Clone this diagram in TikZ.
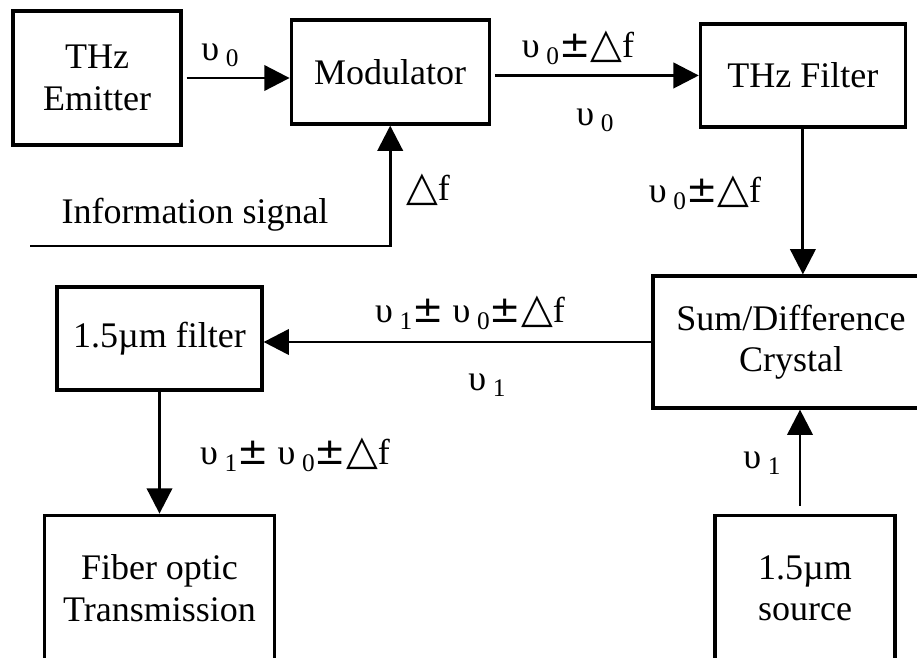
\documentclass[tikz,border=0pt]{standalone}
\usepackage{fontspec}
\setmainfont{Liberation Serif}
\newfontfamily\symfont{DejaVu Sans}
\usetikzlibrary{arrows.meta}
\usetikzlibrary{positioning}

% frequency with subscript, and the "plus/minus delta f" part
\newcommand{\fr}[1]{υ\kern5pt\raisebox{-0.4ex}{\fontsize{19}{19}\selectfont #1}}
\newcommand{\plmi}{{\symfont\fontsize{28}{28}\selectfont ±}}
\newcommand{\dl}{{\symfont\fontsize{31}{31}\selectfont △}}
\newcommand{\pd}{\plmi\dl f}

\begin{document}
\begin{tikzpicture}[x=0.75pt,y=-0.75pt,>={Triangle[length=19pt,width=19pt]},line width=2.2pt,
    block/.style={draw,line width=2.4pt,align=center,font=\fontsize{27}{31}\selectfont,inner sep=0pt},
    lbl/.style={font=\fontsize{27}{31}\selectfont,inner sep=0pt}]

      \path[use as bounding box,clip] (0,0) rectangle (917,657);

      \node (emit) [block,minimum width=126pt,minimum height=100.5pt] at (97,78) {THz\\Emitter};
      \node (mod) [block,minimum width=148.5pt,minimum height=78pt,right=80.25pt of emit,yshift=4.5pt] {Modulator};
      \node (thzf) [block,minimum width=153.75pt,minimum height=77.25pt,right=156pt of mod,yshift=-2.6pt] {THz Filter};
      \node (sum) [block,minimum width=207pt,minimum height=99pt] at (791,342) {Sum/Difference\\Crystal};
      \node (f15) [block,minimum width=153.75pt,minimum height=77.25pt] at (159.5,338.5) {1.5µm filter};
      \node (fiber) [block,minimum width=172.5pt,minimum height=109.5pt,below=91.5pt of f15] {Fiber optic\\Transmission};
      \node (src) [block,minimum width=135pt,minimum height=109.5pt,below=78pt of sum,xshift=10.5pt] {1.5µm\\source};
      \coordinate (info) at (30,246);

      \path[->]
        (emit.east) edge [shorten <=3pt] (emit.east -| mod.west)
        (mod.east |- thzf.west) edge [shorten <=3pt] (thzf.west)
        (thzf.south) edge (thzf.south |- sum.north)
        (sum.west) edge (sum.west -| f15.east)
        (f15.south) edge (f15.south |- fiber.north)
        ([xshift=-3.75pt]src.north) edge [shorten <=6pt] ([xshift=-3.75pt]src.north |- sum.south);
      \draw[->] (info) -| (mod.south);

      \node (l1) [lbl] at (220,55) {\fr{0}};
      \node (l2) [lbl] at (578,48) {\fr{0}\pd};
      \node (l3) [lbl] at (595,120) {\fr{0}};
      \node (l4) [lbl] at (705,193) {\fr{0}\pd};
      \node (l5) [lbl] at (470,313) {\fr{1}\plmi\ \fr{0}\pd};
      \node (l6) [lbl] at (487,385) {\fr{1}};
      \node (l7) [lbl] at (295,455) {\fr{1}\plmi\ \fr{0}\pd};
      \node (l8) [lbl] at (762,463) {\fr{1}};
      \node (l9) [lbl] at (195,215) {Information signal};
      \node (l10) [lbl] at (428,190) {\dl f};
    \end{tikzpicture}
\end{document}
